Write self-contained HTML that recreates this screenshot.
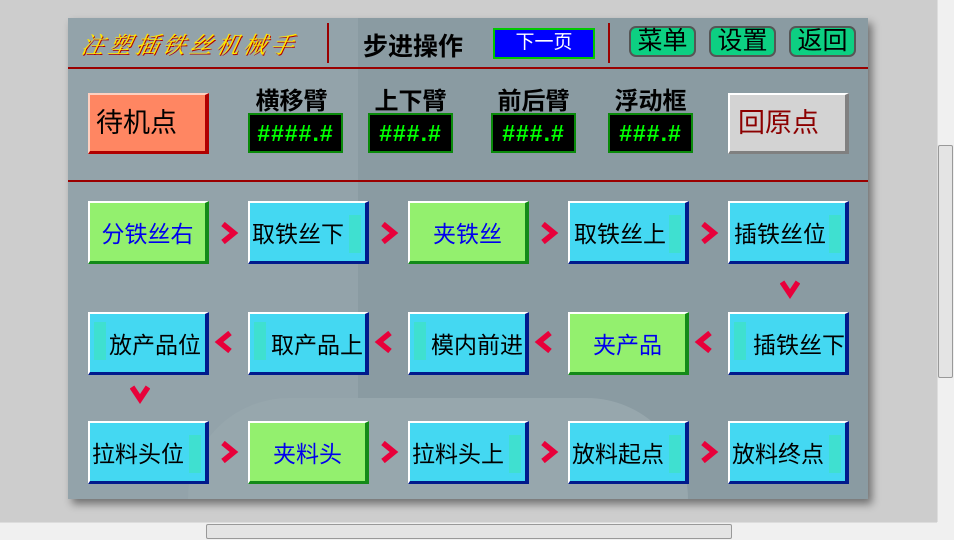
<!DOCTYPE html>
<html><head><meta charset="utf-8"><style>
*{margin:0;padding:0;box-sizing:border-box}
body{width:954px;height:540px;background:#cdcdcd;position:relative;overflow:hidden;font-family:"Liberation Sans","Noto Sans CJK SC",sans-serif}
.a{position:absolute}
#panel{left:68px;top:18px;width:800px;height:481px;background:#8a9ba2;box-shadow:4px 5px 8px rgba(0,0,0,.45);overflow:hidden}
.hl{background:#9a0000;height:2px}
.vl{background:#9a0000;width:2px}
.box{position:absolute;width:121px;height:63px;display:flex;align-items:center;justify-content:center;font-size:23px;border-top:2px solid #fff;border-left:2px solid #fff}
.c{background:#44d8f2;border-right:4px solid #001a8c;border-bottom:3px solid #001a8c;color:#000}
.c::after{content:"";position:absolute;right:4px;top:12px;width:12px;height:38px;background:#3fe0d0}
.c.lf::after{right:auto;left:4px;top:8px}
.g{background:#93f06e;border-right:4px solid #138a18;border-bottom:3px solid #138a18;color:#0000ee}
.c span{position:relative;z-index:1}
.ar{position:absolute;width:20px;height:22px}
.disp{position:absolute;background:#000;border:2px solid #0a8a0a;color:#0f0;font-family:"Liberation Sans",sans-serif;font-weight:bold;font-size:23px;text-align:center;line-height:36px;height:40px;letter-spacing:1px}
.lab{position:absolute;font-weight:bold;font-size:24px;color:#000;text-align:center}
.gb{position:absolute;top:8px;width:67px;height:31px;background:#0dcf82;border:2px solid #555;border-radius:7px;font-size:25px;line-height:26px;text-align:center}
</style></head><body>
<svg width="0" height="0" style="position:absolute"><defs>
<symbol id="r" viewBox="0 0 20 22"><polyline points="4,2 15,11 4,20" fill="none" stroke="#e8003a" stroke-width="5.5"/></symbol>
<symbol id="l" viewBox="0 0 20 22"><polyline points="16,2 5,11 16,20" fill="none" stroke="#e8003a" stroke-width="5.5"/></symbol>
<symbol id="d" viewBox="0 0 20 22"><polyline points="2,4 10,16 18,4" fill="none" stroke="#e8003a" stroke-width="5.5"/></symbol>
</defs></svg>
<div id="panel" class="a">
 <div class="a" style="left:0;top:0;width:290px;height:481px;background:#93a3aa"></div>
 <div class="a" style="left:120px;top:380px;width:500px;height:101px;background:#97a7ad;border-radius:200px 200px 0 0"></div>
 <div class="a hl" style="left:0;top:49px;width:800px"></div>
 <div class="a hl" style="left:0;top:162px;width:800px"></div>
 <div class="a vl" style="left:259px;top:5px;height:40px"></div>
 <div class="a vl" style="left:540px;top:5px;height:40px"></div>
 <div class="a" style="left:14px;top:9px;font-family:'Noto Serif CJK SC',serif;font-style:italic;font-size:23px;color:#ffe800;text-shadow:1px 1px 0 #b00000;letter-spacing:4px;transform:skewX(-12deg)">注塑插铁丝机械手</div>
 <div class="a" style="left:295px;top:9px;font-weight:bold;font-size:25px;color:#000">步进操作</div>
 <div class="a" style="left:425px;top:10px;width:102px;height:31px;background:#0000ff;border:2px solid #00c800;color:#fff;font-size:19px;text-align:center;line-height:26px">下一页</div>
 <div class="gb" style="left:561px">菜单</div>
 <div class="gb" style="left:641px">设置</div>
 <div class="gb" style="left:721px">返回</div>
 <div class="a" style="left:20px;top:75px;width:121px;height:61px;background:#ff8662;border-top:2px solid #ffd0c0;border-left:2px solid #ffd0c0;border-right:4px solid #b00000;border-bottom:3px solid #b00000;font-size:27px;line-height:56px;padding-left:6px">待机点</div>
 <div class="a" style="left:660px;top:75px;width:121px;height:61px;background:#d3d3d3;border-top:2px solid #fff;border-left:2px solid #fff;border-right:4px solid #808080;border-bottom:3px solid #808080;font-size:27px;line-height:56px;padding-left:8px;color:#8c0000">回原点</div>
 <div class="lab" style="left:176px;top:63px;width:95px">横移臂</div>
 <div class="lab" style="left:300px;top:63px;width:85px">上下臂</div>
 <div class="lab" style="left:423px;top:63px;width:85px">前后臂</div>
 <div class="lab" style="left:540px;top:63px;width:85px">浮动框</div>
 <div class="disp" style="left:180px;top:95px;width:95px">####.#</div>
 <div class="disp" style="left:300px;top:95px;width:85px">###.#</div>
 <div class="disp" style="left:423px;top:95px;width:85px">###.#</div>
 <div class="disp" style="left:540px;top:95px;width:85px">###.#</div>

 <div class="box g" style="left:20px;top:183px">分铁丝右</div>
 <div class="box c" style="left:180px;top:183px;justify-content:flex-start;padding-left:2px"><span>取铁丝下</span></div>
 <div class="box g" style="left:340px;top:183px">夹铁丝</div>
 <div class="box c" style="left:500px;top:183px;justify-content:flex-start;padding-left:4px"><span>取铁丝上</span></div>
 <div class="box c" style="left:660px;top:183px;justify-content:flex-start;padding-left:4px"><span>插铁丝位</span></div>

 <div class="box c lf" style="left:20px;top:294px;justify-content:flex-end;padding-right:4px"><span>放产品位</span></div>
 <div class="box c lf" style="left:180px;top:294px;justify-content:flex-end;padding-right:2px"><span>取产品上</span></div>
 <div class="box c lf" style="left:340px;top:294px;justify-content:flex-end;padding-right:2px"><span>模内前进</span></div>
 <div class="box g" style="left:500px;top:294px">夹产品</div>
 <div class="box c lf" style="left:660px;top:294px;justify-content:flex-end;padding-right:0"><span>插铁丝下</span></div>

 <div class="box c" style="left:20px;top:403px;justify-content:flex-start;padding-left:2px"><span>拉料头位</span></div>
 <div class="box g" style="left:180px;top:403px">夹料头</div>
 <div class="box c" style="left:340px;top:403px;justify-content:flex-start;padding-left:2px"><span>拉料头上</span></div>
 <div class="box c" style="left:500px;top:403px;justify-content:flex-start;padding-left:2px"><span>放料起点</span></div>
 <div class="box c" style="left:660px;top:403px;justify-content:flex-start;padding-left:2px"><span>放料终点</span></div>

 <svg class="ar" style="left:151px;top:204px"><use href="#r"/></svg>
 <svg class="ar" style="left:311px;top:204px"><use href="#r"/></svg>
 <svg class="ar" style="left:471px;top:204px"><use href="#r"/></svg>
 <svg class="ar" style="left:631px;top:204px"><use href="#r"/></svg>
 <svg class="ar" style="left:712px;top:260px"><use href="#d"/></svg>
 <svg class="ar" style="left:146px;top:313px"><use href="#l"/></svg>
 <svg class="ar" style="left:306px;top:313px"><use href="#l"/></svg>
 <svg class="ar" style="left:466px;top:313px"><use href="#l"/></svg>
 <svg class="ar" style="left:626px;top:313px"><use href="#l"/></svg>
 <svg class="ar" style="left:62px;top:365px"><use href="#d"/></svg>
 <svg class="ar" style="left:151px;top:423px"><use href="#r"/></svg>
 <svg class="ar" style="left:311px;top:423px"><use href="#r"/></svg>
 <svg class="ar" style="left:471px;top:423px"><use href="#r"/></svg>
 <svg class="ar" style="left:631px;top:423px"><use href="#r"/></svg>
</div>
<div class="a" style="left:937px;top:0;width:17px;height:522px;background:#f0f0f0;border-left:1px solid #ddd"></div>
<div class="a" style="left:938px;top:145px;width:15px;height:233px;background:#e4e4e4;border:1px solid #999;border-radius:2px"></div>
<div class="a" style="left:0;top:522px;width:954px;height:18px;background:#f0f0f0;border-top:1px solid #ddd"></div>
<div class="a" style="left:206px;top:524px;width:526px;height:15px;background:#e4e4e4;border:1px solid #999;border-radius:2px"></div>
<div class="a" style="left:937px;top:522px;width:17px;height:18px;background:#f0f0f0"></div>
</body></html>
